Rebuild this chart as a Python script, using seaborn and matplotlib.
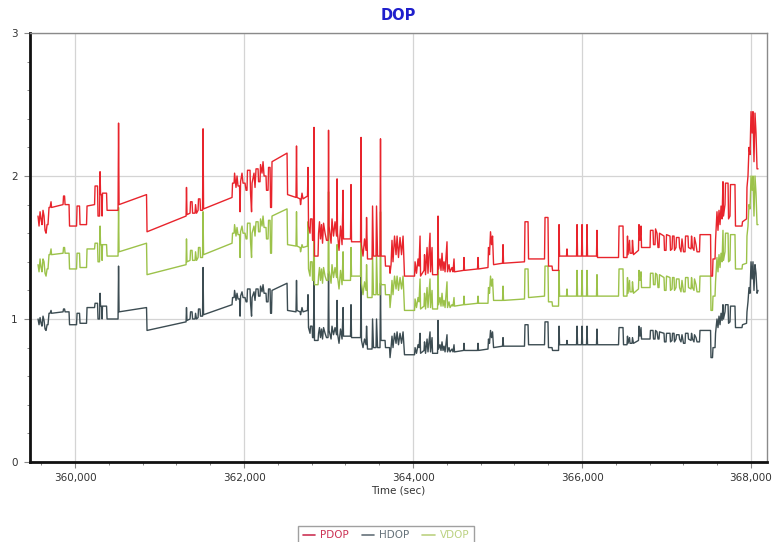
import numpy as np
import pandas as pd
import matplotlib
matplotlib.use("Agg")
import matplotlib.pyplot as plt
from matplotlib.ticker import MultipleLocator, FuncFormatter
from matplotlib.lines import Line2D
import seaborn as sns

# ---------------- data ----------------
series_names = ["PDOP", "HDOP", "VDOP"]

time_sec = [
    359562, 359574, 359586, 359598, 359609, 359621, 359633, 359645, 359657, 359669,
    359680, 359692, 359704, 359716, 359722, 359858, 359864, 359876, 359882, 359929,
    359935, 360018, 360024, 360053, 360059, 360136, 360142, 360231, 360237, 360266,
    360272, 360290, 360296, 360302, 360314, 360320, 360325, 360373, 360379, 360509,
    360515, 360521, 360846, 360852, 361314, 361319, 361325, 361361, 361367, 361385,
    361391, 361420, 361426, 361438, 361456, 361461, 361479, 361485, 361509, 361515,
    361521, 361858, 361864, 361882, 361888, 361905, 361917, 361929, 361947, 361953,
    361959, 361976, 361988, 362012, 362024, 362035, 362041, 362071, 362077, 362089,
    362095, 362118, 362130, 362142, 362166, 362172, 362189, 362195, 362213, 362225,
    362237, 362260, 362266, 362284, 362290, 362308, 362314, 362325, 362331, 362509,
    362515, 362615, 362621, 362627, 362663, 362669, 362686, 362698, 362751, 362757,
    362763, 362781, 362787, 362805, 362811, 362822, 362828, 362834, 362876, 362882,
    362893, 362905, 362917, 362929, 362941, 362959, 362976, 362994, 363000, 363006,
    363030, 363041, 363059, 363077, 363095, 363101, 363106, 363124, 363142, 363160,
    363172, 363177, 363260, 363266, 363272, 363379, 363385, 363390, 363408, 363426,
    363444, 363450, 363461, 363515, 363521, 363532, 363562, 363568, 363580, 363609,
    363615, 363621, 363669, 363674, 363722, 363728, 363740, 363751, 363763, 363781,
    363799, 363811, 363828, 363846, 363864, 363882, 363899, 364018, 364024, 364041,
    364059, 364071, 364083, 364089, 364130, 364136, 364148, 364166, 364177, 364201,
    364207, 364225, 364231, 364290, 364296, 364302, 364319, 364331, 364343, 364355,
    364367, 364379, 364402, 364408, 364426, 364438, 364461, 364473, 364485, 364491,
    364598, 364603, 364609, 364763, 364769, 364775, 364887, 364893, 364905, 364917,
    364929, 364941, 364953, 365059, 365065, 365071, 365319, 365325, 365361, 365367,
    365556, 365562, 365597, 365603, 365645, 365651, 365722, 365728, 365734, 365816,
    365822, 365828, 365935, 365941, 365947, 365994, 366000, 366006, 366053, 366059,
    366065, 366171, 366177, 366183, 366432, 366438, 366485, 366491, 366532, 366538,
    366544, 366562, 366568, 366592, 366597, 366609, 366668, 366674, 366686, 366698,
    366704, 366805, 366810, 366840, 366846, 366864, 366870, 366887, 366899, 366911,
    366917, 366970, 366976, 366994, 367000, 367041, 367047, 367065, 367071, 367089,
    367094, 367112, 367118, 367148, 367154, 367171, 367183, 367201, 367219, 367225,
    367254, 367260, 367290, 367296, 367307, 367325, 367331, 367349, 367361, 367390,
    367396, 367521, 367526, 367544, 367550, 367574, 367580, 367597, 367609, 367621,
    367633, 367645, 367657, 367668, 367674, 367692, 367698, 367728, 367734, 367751,
    367757, 367810, 367816, 367893, 367899, 367947, 367952, 367964, 367976, 367988,
    368000, 368012, 368023, 368035, 368047, 368059, 368071, 368083,
]

pdop = [
    1.72, 1.65, 1.75, 1.70, 1.66, 1.76, 1.72, 1.62, 1.60, 1.66,
    1.66, 1.78, 1.78, 1.82, 1.78, 1.80, 1.86, 1.86, 1.80, 1.80,
    1.65, 1.65, 1.79, 1.79, 1.66, 1.66, 1.79, 1.80, 1.93, 1.93,
    1.72, 1.72, 2.03, 1.87, 1.87, 1.72, 1.88, 1.88, 1.76, 1.76,
    2.37, 1.80, 1.87, 1.61, 1.72, 1.92, 1.73, 1.74, 1.82, 1.82,
    1.74, 1.74, 1.80, 1.74, 1.76, 1.84, 1.84, 1.76, 1.76, 2.33,
    1.77, 1.85, 1.95, 1.95, 2.02, 1.92, 2.00, 1.93, 1.93, 1.75,
    1.96, 2.02, 1.95, 1.95, 1.90, 1.90, 2.04, 2.04, 1.88, 1.75,
    1.95, 2.02, 1.92, 2.05, 2.05, 1.96, 1.96, 2.08, 2.02, 2.10,
    2.00, 2.00, 1.90, 1.90, 2.06, 2.06, 1.78, 1.78, 2.10, 2.16,
    1.87, 1.85, 2.21, 1.85, 1.84, 1.80, 1.88, 1.84, 1.86, 2.06,
    1.65, 1.60, 1.70, 1.70, 1.55, 1.55, 2.34, 1.44, 1.44, 1.60,
    1.68, 1.56, 1.66, 1.53, 1.67, 1.60, 1.55, 1.55, 2.32, 1.65,
    1.53, 1.70, 1.58, 1.68, 1.58, 1.98, 1.60, 1.48, 1.65, 1.52,
    1.90, 1.56, 1.56, 1.94, 1.54, 1.54, 2.27, 1.52, 1.44, 1.56,
    1.48, 1.71, 1.42, 1.42, 1.79, 1.44, 1.44, 1.79, 1.44, 1.44,
    2.26, 1.44, 1.44, 1.37, 1.37, 1.32, 1.38, 1.55, 1.40, 1.58,
    1.45, 1.58, 1.43, 1.57, 1.45, 1.58, 1.30, 1.30, 1.40, 1.32,
    1.42, 1.37, 1.58, 1.30, 1.34, 1.45, 1.31, 1.50, 1.32, 1.60,
    1.33, 1.50, 1.31, 1.31, 1.72, 1.35, 1.42, 1.34, 1.46, 1.34,
    1.40, 1.33, 1.54, 1.33, 1.38, 1.33, 1.36, 1.33, 1.42, 1.33,
    1.34, 1.43, 1.34, 1.35, 1.43, 1.35, 1.36, 1.50, 1.45, 1.61,
    1.52, 1.58, 1.38, 1.39, 1.52, 1.39, 1.40, 1.68, 1.68, 1.42,
    1.42, 1.71, 1.71, 1.37, 1.37, 1.34, 1.34, 1.66, 1.44, 1.44,
    1.49, 1.44, 1.44, 1.66, 1.44, 1.44, 1.66, 1.44, 1.44, 1.66,
    1.44, 1.44, 1.62, 1.43, 1.43, 1.65, 1.65, 1.43, 1.43, 1.58,
    1.45, 1.55, 1.46, 1.46, 1.55, 1.45, 1.48, 1.66, 1.55, 1.65,
    1.50, 1.50, 1.62, 1.62, 1.52, 1.52, 1.63, 1.60, 1.50, 1.50,
    1.60, 1.58, 1.48, 1.48, 1.59, 1.58, 1.48, 1.49, 1.58, 1.58,
    1.48, 1.50, 1.57, 1.57, 1.50, 1.47, 1.56, 1.47, 1.47, 1.58,
    1.58, 1.50, 1.49, 1.58, 1.50, 1.48, 1.57, 1.52, 1.47, 1.47,
    1.59, 1.59, 1.30, 1.30, 1.42, 1.42, 1.55, 1.75, 1.62, 1.76,
    1.66, 1.79, 1.70, 1.96, 1.72, 1.80, 1.95, 1.95, 1.70, 1.72,
    1.94, 1.94, 1.65, 1.65, 1.68, 1.70, 1.92, 2.00, 2.20, 2.15,
    2.45, 2.30, 2.45, 2.10, 2.44, 2.30, 2.05, 2.05,
]

hdop = [
    1.00, 0.96, 1.01, 0.97, 0.95, 1.02, 0.99, 0.93, 0.92, 0.96,
    0.96, 1.04, 1.04, 1.06, 1.04, 1.05, 1.07, 1.07, 1.05, 1.05,
    0.96, 0.96, 1.04, 1.04, 0.97, 0.97, 1.08, 1.08, 1.11, 1.11,
    1.00, 1.00, 1.18, 1.09, 1.09, 1.00, 1.09, 1.09, 1.00, 1.00,
    1.37, 1.05, 1.08, 0.92, 0.98, 1.08, 0.99, 1.00, 1.05, 1.05,
    1.00, 1.00, 1.04, 1.00, 1.01, 1.07, 1.07, 1.02, 1.02, 1.36,
    1.03, 1.10, 1.15, 1.15, 1.20, 1.13, 1.18, 1.14, 1.14, 1.02,
    1.16, 1.19, 1.15, 1.15, 1.12, 1.12, 1.21, 1.21, 1.11, 1.02,
    1.15, 1.19, 1.13, 1.21, 1.21, 1.16, 1.16, 1.23, 1.19, 1.24,
    1.18, 1.18, 1.12, 1.12, 1.21, 1.21, 1.04, 1.04, 1.20, 1.25,
    1.06, 1.05, 1.27, 1.06, 1.05, 1.03, 1.08, 1.05, 1.06, 1.17,
    0.94, 0.90, 0.95, 0.95, 0.87, 0.87, 1.32, 0.85, 0.85, 0.90,
    0.94, 0.87, 0.93, 0.86, 0.94, 0.90, 0.87, 0.87, 1.32, 0.92,
    0.86, 0.95, 0.89, 0.94, 0.89, 1.13, 0.90, 0.83, 0.93, 0.86,
    1.08, 0.88, 0.88, 1.10, 0.87, 0.87, 1.31, 0.85, 0.80, 0.86,
    0.82, 0.95, 0.79, 0.79, 1.00, 0.80, 0.80, 1.00, 0.80, 0.80,
    1.25, 0.85, 0.85, 0.80, 0.80, 0.73, 0.80, 0.88, 0.80, 0.90,
    0.83, 0.91, 0.82, 0.90, 0.83, 0.91, 0.75, 0.75, 0.80, 0.76,
    0.82, 0.80, 0.90, 0.76, 0.78, 0.84, 0.76, 0.86, 0.77, 0.91,
    0.77, 0.87, 0.76, 0.76, 0.99, 0.79, 0.82, 0.78, 0.84, 0.78,
    0.81, 0.77, 0.89, 0.77, 0.80, 0.77, 0.79, 0.77, 0.82, 0.77,
    0.78, 0.83, 0.78, 0.78, 0.83, 0.78, 0.79, 0.86, 0.83, 0.92,
    0.87, 0.91, 0.80, 0.81, 0.87, 0.81, 0.81, 0.96, 0.96, 0.82,
    0.82, 0.98, 0.98, 0.80, 0.80, 0.78, 0.78, 0.95, 0.82, 0.82,
    0.85, 0.82, 0.82, 0.95, 0.82, 0.82, 0.95, 0.82, 0.82, 0.95,
    0.82, 0.82, 0.93, 0.82, 0.82, 0.94, 0.94, 0.82, 0.82, 0.88,
    0.83, 0.87, 0.83, 0.83, 0.87, 0.83, 0.85, 0.95, 0.88, 0.94,
    0.86, 0.86, 0.92, 0.92, 0.86, 0.86, 0.92, 0.91, 0.86, 0.86,
    0.91, 0.90, 0.84, 0.84, 0.90, 0.90, 0.84, 0.85, 0.90, 0.90,
    0.84, 0.86, 0.89, 0.89, 0.86, 0.84, 0.89, 0.83, 0.83, 0.90,
    0.90, 0.86, 0.85, 0.90, 0.86, 0.84, 0.89, 0.87, 0.84, 0.84,
    0.92, 0.92, 0.73, 0.73, 0.80, 0.80, 0.90, 1.00, 0.94, 1.02,
    0.96, 1.04, 0.99, 1.10, 1.00, 1.05, 1.10, 1.10, 0.97, 0.98,
    1.09, 1.09, 0.94, 0.94, 0.96, 0.97, 1.05, 1.12, 1.22, 1.18,
    1.40, 1.28, 1.40, 1.20, 1.38, 1.32, 1.18, 1.20,
]

vdop = [
    1.38, 1.33, 1.42, 1.36, 1.33, 1.42, 1.40, 1.32, 1.30, 1.35,
    1.35, 1.45, 1.45, 1.49, 1.45, 1.46, 1.50, 1.50, 1.46, 1.46,
    1.35, 1.35, 1.46, 1.46, 1.36, 1.36, 1.49, 1.49, 1.53, 1.53,
    1.40, 1.40, 1.65, 1.52, 1.52, 1.41, 1.52, 1.52, 1.44, 1.44,
    1.78, 1.47, 1.53, 1.31, 1.38, 1.56, 1.40, 1.41, 1.48, 1.48,
    1.41, 1.41, 1.47, 1.41, 1.43, 1.50, 1.50, 1.43, 1.43, 1.75,
    1.45, 1.53, 1.60, 1.60, 1.66, 1.58, 1.64, 1.59, 1.59, 1.43,
    1.61, 1.65, 1.60, 1.60, 1.56, 1.56, 1.67, 1.67, 1.54, 1.43,
    1.60, 1.65, 1.58, 1.68, 1.68, 1.61, 1.61, 1.70, 1.65, 1.72,
    1.64, 1.64, 1.56, 1.56, 1.69, 1.69, 1.46, 1.46, 1.72, 1.77,
    1.52, 1.51, 1.75, 1.51, 1.50, 1.47, 1.52, 1.50, 1.51, 1.68,
    1.35, 1.30, 1.40, 1.40, 1.27, 1.27, 1.90, 1.24, 1.24, 1.30,
    1.36, 1.27, 1.35, 1.25, 1.36, 1.30, 1.27, 1.27, 1.89, 1.34,
    1.25, 1.38, 1.29, 1.36, 1.29, 1.52, 1.30, 1.21, 1.34, 1.24,
    1.47, 1.27, 1.27, 1.50, 1.30, 1.30, 1.78, 1.25, 1.17, 1.26,
    1.20, 1.38, 1.15, 1.15, 1.45, 1.17, 1.17, 1.45, 1.17, 1.17,
    1.75, 1.24, 1.24, 1.17, 1.17, 1.08, 1.16, 1.27, 1.17, 1.30,
    1.21, 1.30, 1.20, 1.29, 1.21, 1.30, 1.06, 1.06, 1.14, 1.08,
    1.15, 1.12, 1.28, 1.07, 1.09, 1.18, 1.07, 1.22, 1.08, 1.28,
    1.08, 1.20, 1.07, 1.07, 1.40, 1.10, 1.15, 1.09, 1.18, 1.09,
    1.13, 1.08, 1.26, 1.08, 1.12, 1.08, 1.10, 1.09, 1.15, 1.09,
    1.10, 1.16, 1.10, 1.11, 1.16, 1.11, 1.11, 1.22, 1.18, 1.30,
    1.23, 1.28, 1.13, 1.13, 1.23, 1.13, 1.14, 1.35, 1.35, 1.15,
    1.16, 1.37, 1.37, 1.12, 1.12, 1.09, 1.09, 1.34, 1.16, 1.16,
    1.21, 1.16, 1.16, 1.34, 1.16, 1.16, 1.34, 1.16, 1.16, 1.34,
    1.16, 1.16, 1.31, 1.16, 1.16, 1.35, 1.35, 1.16, 1.16, 1.29,
    1.18, 1.27, 1.19, 1.19, 1.26, 1.18, 1.21, 1.34, 1.27, 1.33,
    1.22, 1.22, 1.32, 1.32, 1.24, 1.24, 1.32, 1.31, 1.22, 1.22,
    1.31, 1.29, 1.20, 1.20, 1.30, 1.29, 1.20, 1.21, 1.29, 1.29,
    1.20, 1.22, 1.28, 1.28, 1.22, 1.19, 1.27, 1.19, 1.19, 1.29,
    1.29, 1.22, 1.21, 1.29, 1.22, 1.20, 1.28, 1.24, 1.19, 1.19,
    1.30, 1.30, 1.06, 1.06, 1.16, 1.16, 1.26, 1.43, 1.33, 1.45,
    1.36, 1.46, 1.40, 1.62, 1.41, 1.47, 1.60, 1.60, 1.40, 1.41,
    1.59, 1.59, 1.35, 1.35, 1.38, 1.39, 1.58, 1.65, 1.80, 1.77,
    2.00, 1.90, 2.00, 1.72, 2.00, 1.88, 1.66, 1.66,
]

x_major_ticks = [360000, 362000, 364000, 366000, 368000]
y_major_ticks = [0, 1, 2, 3]

line_colors = {"PDOP": "#e8242c", "HDOP": "#3c4c52", "VDOP": "#9cc24a"}
legend_text_colors = {"PDOP": "#cc3355", "HDOP": "#66727a", "VDOP": "#bcd282"}

# ---------------- build table ----------------
n = len(time_sec)
assert len(pdop) == n and len(hdop) == n and len(vdop) == n
frames = []
for name, vals in zip(series_names, [pdop, hdop, vdop]):
    frames.append(pd.DataFrame({"Time": time_sec, "DOP": vals, "series": name}))
df = pd.concat(frames, ignore_index=True)

# ---------------- figure ----------------
sns.set_style("white")
plt.rcParams["font.family"] = ["DejaVu Sans"]

fig = plt.figure(figsize=(7.72, 5.42), dpi=100)
ax = fig.add_axes([30 / 772, 1 - 462 / 542, (767 - 30) / 772, (462 - 33) / 542])

draw_order = ["HDOP", "VDOP", "PDOP"]
for name in draw_order:
    sub = df[df["series"] == name]
    sns.lineplot(data=sub, x="Time", y="DOP", estimator=None, sort=False,
                 color=line_colors[name], linewidth=1.0, ax=ax, legend=False)

ax.set_xlim(359467, 368189)
ax.set_ylim(0, 3)
ax.set_xticks(x_major_ticks)
ax.set_yticks(y_major_ticks)
ax.xaxis.set_minor_locator(MultipleLocator(400))
ax.yaxis.set_minor_locator(MultipleLocator(0.2))
ax.xaxis.set_major_formatter(FuncFormatter(lambda v, p: f"{v:,.0f}"))
ax.yaxis.set_major_formatter(FuncFormatter(lambda v, p: f"{v:.0f}"))

ax.grid(True, which="major", color="#d4d4d4", linewidth=0.9)
ax.set_axisbelow(True)

ax.tick_params(axis="both", which="both", bottom=True, left=True, top=False, right=False,
               direction="out")
ax.tick_params(axis="both", which="major", length=4, width=0.8, color="#888888",
               labelsize=7.5, labelcolor="#333333")
ax.tick_params(axis="x", which="major", pad=4)
ax.tick_params(axis="y", which="major", pad=5)
ax.tick_params(axis="both", which="minor", length=2.5, width=0.7, color="#888888")

for side in ["top", "right"]:
    ax.spines[side].set_color("#8a8a8a")
    ax.spines[side].set_linewidth(1.0)
for side in ["left", "bottom"]:
    ax.spines[side].set_color("#111111")
    ax.spines[side].set_linewidth(2.0)

ax.set_xlabel("Time (sec)", fontsize=7.5, color="#333333", labelpad=2)
ax.set_ylabel("")
ax.set_title("DOP", fontsize=10.5, fontweight="bold", color="#1f1fcc", pad=9)

handles = [Line2D([0], [0], color=legend_text_colors[s], linewidth=1.2) for s in series_names]
leg = fig.legend(handles, series_names, loc="upper center",
                 bbox_to_anchor=(386 / 772, 1 - 521 / 542), ncol=3,
                 frameon=True, fancybox=False, edgecolor="#888888",
                 fontsize=7.5, handlelength=1.2, handletextpad=0.5,
                 columnspacing=1.2, borderpad=0.4)
leg.get_frame().set_linewidth(1.0)
for txt, s in zip(leg.get_texts(), series_names):
    txt.set_color(legend_text_colors[s])

fig.savefig("out.png", dpi=100)
